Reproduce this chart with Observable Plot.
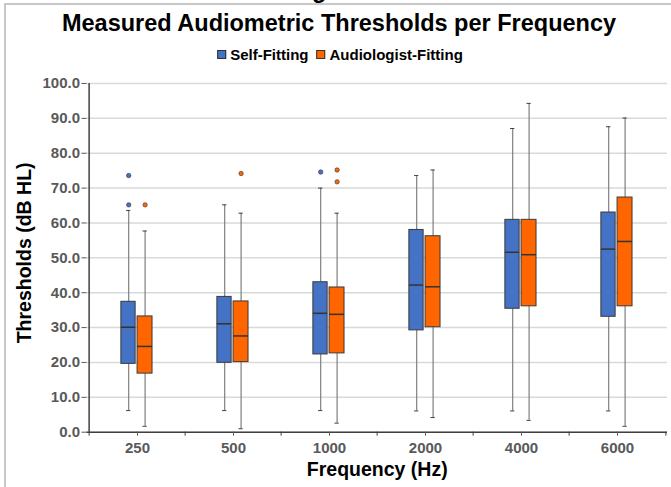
<!DOCTYPE html>
<html>
<head>
<meta charset="utf-8">
<script src="https://cdn.jsdelivr.net/npm/d3@7"></script>
<script src="https://cdn.jsdelivr.net/npm/@observablehq/plot@0.6"></script>
<style>
  html, body { margin: 0; padding: 0; background: #fff; }
  body { width: 671px; height: 487px; overflow: hidden; font-family: "Liberation Sans", Arial, sans-serif; }
  #wrap { position: relative; width: 671px; height: 487px; }
  #wrap svg { position: absolute; left: 0; top: 0; }
  .abs { position: absolute; white-space: nowrap; font-weight: bold; }
  #title { left: 339px; top: 10px; transform: translateX(-50%); font-size: 23.5px; color: #000; }
  #legend { left: 340px; top: 46px; transform: translateX(-50%); font-size: 15px; color: #000; display: flex; align-items: center; }
  .sw { display: inline-block; width: 7px; height: 7px; border: 1px solid #333; margin-right: 4px; }
  .item { display: flex; align-items: center; margin: 0 4px; }
  #frag { left: 312px; top: -23px; font-size: 23.5px; color: #000; }
  #topline { position: absolute; left: 5px; top: 3px; width: 666px; height: 2px; background: #c8c8c8; }
  #leftline { position: absolute; left: 4px; top: 3px; width: 2px; height: 484px; background: #c8c8c8; }
</style>
</head>
<body>
<div id="wrap">
  <div class="abs" id="frag">g</div>
  <div id="topline"></div>
  <div id="leftline"></div>
  <div class="abs" id="title">Measured Audiometric Thresholds per Frequency</div>
  <div class="abs" id="legend"></div>
</div>
<script>
const freqs = ["250", "500", "1000", "2000", "4000", "6000"];
const seriesNames = ["Self-Fitting", "Audiologist-Fitting"];
const seriesColors = ["#4472C4", "#FF6600"];

// Self-Fitting box statistics
const selfLow  = [6.2, 6.2, 6.2, 6.1, 6.1, 6.1];
const selfQ1   = [19.6, 19.9, 22.3, 29.2, 35.4, 33.1];
const selfMed  = [30.1, 31.1, 34.1, 42.2, 51.6, 52.5];
const selfQ3   = [37.4, 38.8, 43.0, 58.0, 60.9, 63.0];
const selfHigh = [63.6, 65.2, 70.0, 73.6, 87.1, 87.6];
const selfOutFreq = ["250", "250", "1000"];
const selfOutVal  = [73.6, 65.2, 74.6];

// Audiologist-Fitting box statistics
const audLow  = [1.7, 1.0, 2.6, 4.2, 3.4, 1.7];
const audQ1   = [16.8, 20.1, 22.6, 30.1, 36.1, 36.1];
const audMed  = [24.6, 27.6, 33.8, 41.7, 50.9, 54.7];
const audQ3   = [33.2, 37.5, 41.5, 56.2, 60.9, 67.3];
const audHigh = [57.7, 62.8, 62.8, 75.2, 94.3, 90.1];
const audOutFreq = ["250", "500", "1000", "1000"];
const audOutVal  = [65.2, 74.2, 75.2, 71.8];

const yTicks = [0, 10, 20, 30, 40, 50, 60, 70, 80, 90, 100];

const selfRows = freqs.map((f, i) => ({f, low: selfLow[i], q1: selfQ1[i], med: selfMed[i], q3: selfQ3[i], high: selfHigh[i]}));
const audRows  = freqs.map((f, i) => ({f, low: audLow[i], q1: audQ1[i], med: audMed[i], q3: audQ3[i], high: audHigh[i]}));
const selfOut = selfOutFreq.map((f, i) => ({f, v: selfOutVal[i]}));
const audOut  = audOutFreq.map((f, i) => ({f, v: audOutVal[i]}));

const W = 671, H = 487;
const mL = 86.5, mR = 4, mT = 83, mB = 55.3;
const bw = (W - mL - mR) / freqs.length;
const half = bw / 2;

// box geometry relative to band centre
const boxes = [
  {rows: selfRows, out: selfOut, color: seriesColors[0], left: -16.5, right: -1.5, wx: -8.8},
  {rows: audRows,  out: audOut,  color: seriesColors[1], left: -0.3,  right: 15.4, wx: 7.6}
];

const marks = [
  Plot.gridY(yTicks, {stroke: "#d9d9d9", strokeOpacity: 1, strokeWidth: 1.5})
];

for (const b of boxes) {
  const insL = half + b.left, insR = half - b.right;
  const capL = half + b.wx - 2.5, capR = half - b.wx - 2.5;
  marks.push(
    Plot.ruleX(b.rows, {x: "f", y1: "low", y2: "high", dx: b.wx, stroke: "#7f7f7f", strokeWidth: 1.2}),
    Plot.tickY(b.rows, {x: "f", y: "low", insetLeft: capL, insetRight: capR, stroke: "#404040", strokeWidth: 1}),
    Plot.tickY(b.rows, {x: "f", y: "high", insetLeft: capL, insetRight: capR, stroke: "#404040", strokeWidth: 1}),
    Plot.barY(b.rows, {x: "f", y1: "q1", y2: "q3", fill: b.color, stroke: "#3a3a3a", strokeWidth: 1, insetLeft: insL, insetRight: insR}),
    Plot.tickY(b.rows, {x: "f", y: "med", insetLeft: insL, insetRight: insR, stroke: "#333", strokeWidth: 1.5}),
    Plot.dot(b.out, {x: "f", y: "v", dx: b.wx, r: 2.2, fill: b.color, stroke: "#333", strokeWidth: 0.6})
  );
}

marks.push(
  // axis lines
  Plot.ruleY([0], {stroke: "#404040", strokeWidth: 1.5}),
  Plot.ruleX([freqs[0]], {dx: -half, stroke: "#404040", strokeWidth: 1.5}),
  // y axis
  Plot.axisY({ticks: yTicks, tickFormat: d => d.toFixed(1), tickSize: 5, tickPadding: 2, fontSize: 15, fontWeight: "bold", color: "#595959", label: null}),
  // x axis centre ticks with labels
  Plot.axisX({tickSize: 4, tickPadding: 6, fontSize: 15, fontWeight: "bold", color: "#595959", label: null}),
  // x axis boundary ticks
  Plot.axisX({tickSize: 4, text: null, dx: -half, color: "#404040", label: null}),
  Plot.axisX({ticks: [freqs[freqs.length - 1]], tickSize: 4, text: null, dx: half, color: "#404040", label: null}),
  // axis titles
  Plot.text(["Thresholds (dB HL)"], {frameAnchor: "left", textAnchor: "middle", lineAnchor: "middle", rotate: -90, dx: -62, dy: -5, fontSize: 19.5, fontWeight: "bold", fill: "#000"}),
  Plot.text(["Frequency (Hz)"], {frameAnchor: "bottom", lineAnchor: "middle", dy: 38, fontSize: 19.5, fontWeight: "bold", fill: "#000"})
);

const chart = Plot.plot({
  width: W,
  height: H,
  marginLeft: mL,
  marginRight: mR,
  marginTop: mT,
  marginBottom: mB,
  style: {fontFamily: "'Liberation Sans', Arial, sans-serif", background: "transparent", overflow: "visible"},
  x: {type: "band", domain: freqs, padding: 0, label: null},
  y: {domain: [0, 100], label: null},
  marks
});

const wrap = document.getElementById("wrap");
wrap.insertBefore(chart, wrap.firstChild);

const legend = document.getElementById("legend");
seriesNames.forEach((n, i) => {
  const it = document.createElement("span");
  it.className = "item";
  const sw = document.createElement("span");
  sw.className = "sw";
  sw.style.background = seriesColors[i];
  it.appendChild(sw);
  it.appendChild(document.createTextNode(n));
  legend.appendChild(it);
});
</script>
</body>
</html>
